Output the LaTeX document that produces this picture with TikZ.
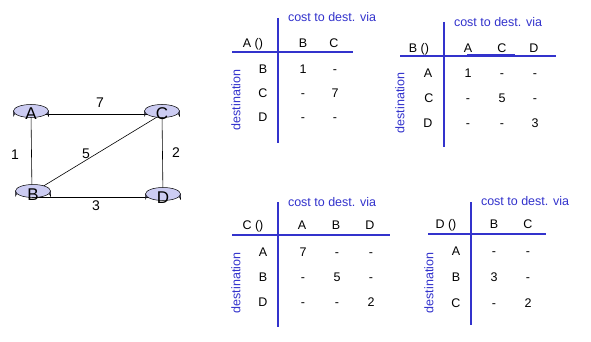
\documentclass[tikz,border=0pt]{standalone}
\usepackage{fontspec}
\setmainfont{Liberation Sans}
\definecolor{tblue}{HTML}{3333CC}
\definecolor{rtop}{HTML}{CCCCF2}
\definecolor{rbody}{HTML}{9A9ADE}
\tikzset{
  tline/.style={draw=tblue, line width=1.6pt},
  ttext/.style={font=\fontsize{12.5}{14}\selectfont, inner sep=0pt, text height=9pt, text depth=0pt},
  thead/.style={font=\fontsize{12.5}{14}\selectfont, inner sep=0pt, text=tblue},
  tdest/.style={font=\fontsize{12.5}{14}\selectfont, inner sep=0pt, text=tblue, rotate=90},
  link/.style={draw=black, line width=0.6pt},
  wlabel/.style={font=\fontsize{14}{16}\selectfont, inner sep=0pt},
  rname/.style={font=\fontsize{17}{18}\selectfont, inner sep=0pt, text height=12pt, text depth=0pt}
}
\newcommand{\router}[3]{%
  \fill[rbody, draw=black, line width=0.5pt] (#1-17.5,#2-4) -- (#1-17.5,#2+1) arc[start angle=180, end angle=360, x radius=17.5, y radius=6.5] -- (#1+17.5,#2-4);
  \filldraw[fill=rtop, draw=black, line width=0.5pt] (#1,#2-4) ellipse[x radius=17.5, y radius=6.5];
  \node[rname] (#3) at (#1,#2-1) {#3};
}
\begin{document}
\begin{tikzpicture}[x=1pt,y=-1pt]
\useasboundingbox (0,0) rectangle (591,342);
% network
\coordinate (pa) at (31,114);
\coordinate (pc) at (162,114);
\coordinate (pb) at (32,193);
\coordinate (pd) at (163,197);
\draw[link] (pa) -- (pc);
\draw[link] (pa) -- (pb);
\draw[link] (pc) -- (pd);
\draw[link] (32,197) -- (pd);
\draw[link] (pc) -- (pb);
\router{31}{115}{A}
\router{162}{115}{C}
\router{33}{195}{B}
\router{163}{198}{D}
\node[wlabel] (w7) at (100,103) {7};
\node[wlabel] (w1) at (15,155) {1};
\node[wlabel] (w5) at (86,154) {5};
\node[wlabel] (w2) at (176,153) {2};
\node[wlabel] (w3) at (96,206) {3};
% Table A
\draw[tline] (278,18) -- (278,143);
\draw[tline] (232,52) -- (353,52);
\node[thead] (ah) at (332,17) {cost to dest. via};
\node[ttext] (an) at (253,43) {A ()};
\node[ttext] at (303,43) {B};
\node[ttext] at (334,43) {C};
\node[tdest] at (236,100) {destination};
\node[ttext] at (263,69) {B};
\node[ttext] at (263,93) {C};
\node[ttext] at (263,117) {D};
\node[ttext] at (303,69) {1};
\node[ttext] at (335,69) {-};
\node[ttext] at (303,93) {-};
\node[ttext] at (335,93) {7};
\node[ttext] at (303,117) {-};
\node[ttext] at (335,117) {-};
% Table B
\draw[tline] (444,22) -- (444,147);
\draw[tline] (400,56) -- (556,56);
\draw[draw=tblue, line width=2.4pt] (467,55.6) -- (515,55.6);
\node[thead] at (498,22) {cost to dest. via};
\node[ttext] at (419,48) {B ()};
\node[ttext] at (468,48) {A};
\node[ttext] at (502,48) {C};
\node[ttext] at (534,48) {D};
\node[tdest] at (400,103) {destination};
\node[ttext] at (428,73) {A};
\node[ttext] at (429,98) {C};
\node[ttext] at (428,123) {D};
\node[ttext] at (468,73) {1};
\node[ttext] at (502,73) {-};
\node[ttext] at (535,73) {-};
\node[ttext] at (468,98) {-};
\node[ttext] at (502,98) {5};
\node[ttext] at (535,98) {-};
\node[ttext] at (468,123) {-};
\node[ttext] at (502,123) {-};
\node[ttext] at (535,123) {3};
% Table C
\draw[tline] (278,202) -- (278,327);
\draw[tline] (232,235) -- (390,235);
\node[thead] at (332,202) {cost to dest. via};
\node[ttext] at (253,225) {C ()};
\node[ttext] at (302,225) {A};
\node[ttext] at (336,225) {B};
\node[ttext] at (370,225) {D};
\node[tdest] at (236,283) {destination};
\node[ttext] at (263,252) {A};
\node[ttext] at (263,277) {B};
\node[ttext] at (263,302) {D};
\node[ttext] at (303,252) {7};
\node[ttext] at (337,252) {-};
\node[ttext] at (371,252) {-};
\node[ttext] at (303,277) {-};
\node[ttext] at (337,277) {5};
\node[ttext] at (371,277) {-};
\node[ttext] at (303,302) {-};
\node[ttext] at (337,302) {-};
\node[ttext] at (371,302) {2};
% Table D
\draw[tline] (471,202) -- (471,325);
\draw[tline] (428,234) -- (546,234);
\node[thead] at (525,201) {cost to dest. via};
\node[ttext] at (446,224) {D ()};
\node[ttext] at (494,224) {B};
\node[ttext] at (528,224) {C};
\node[tdest] at (429,283) {destination};
\node[ttext] at (456,251) {A};
\node[ttext] at (456,277) {B};
\node[ttext] at (456,303) {C};
\node[ttext] at (494,251) {-};
\node[ttext] at (528,251) {-};
\node[ttext] at (494,277) {3};
\node[ttext] at (528,277) {-};
\node[ttext] at (494,303) {-};
\node[ttext] at (528,303) {2};
\end{tikzpicture}
\end{document}
